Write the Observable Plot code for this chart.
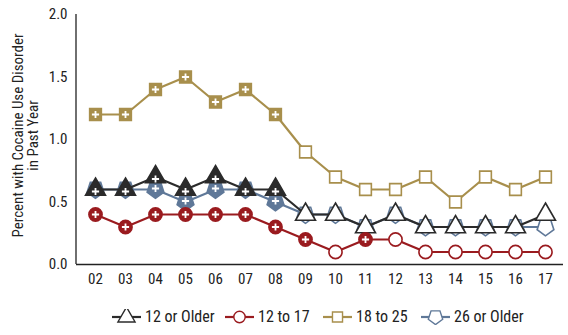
<!DOCTYPE html>
<html>
<head>
<meta charset="utf-8">
<script src="https://cdn.jsdelivr.net/npm/d3@7"></script>
<script src="https://cdn.jsdelivr.net/npm/@observablehq/plot@0.6"></script>
<style>
  body { margin: 0; background: #fff; font-family: "Roboto Condensed", sans-serif; }
  #legend { position: relative; height: 35px; font-size: 16px; color: #222; }
  .item { position: absolute; top: 7px; display: flex; align-items: center; }
  .item svg { margin-right: 4px; }
</style>
</head>
<body>
<div id="chart"></div>
<div id="legend"></div>
<script>
const years = ["02","03","04","05","06","07","08","09","10","11","12","13","14","15","16","17"];
const seriesNames = ["12 or Older", "12 to 17", "18 to 25", "26 or Older"];
const older12 = [0.6,0.6,0.7,0.6,0.7,0.6,0.6,0.4,0.4,0.3,0.4,0.3,0.3,0.3,0.3,0.4];
const age12to17 = [0.4,0.3,0.4,0.4,0.4,0.4,0.3,0.2,0.1,0.2,0.2,0.1,0.1,0.1,0.1,0.1];
const age18to25 = [1.2,1.2,1.4,1.5,1.3,1.4,1.2,0.9,0.7,0.6,0.6,0.7,0.5,0.7,0.6,0.7];
const older26 = [0.6,0.6,0.6,0.5,0.6,0.6,0.5,0.4,0.4,0.3,0.4,0.3,0.3,0.3,0.3,0.3];
// significant difference from 2017 (filled marker with plus)
const sigOlder12 = [1,1,1,1,1,1,1,0,0,0,0,0,0,0,0,0];
const sig12to17 = [1,1,1,1,1,1,1,1,0,1,0,0,0,0,0,0];
const sig18to25 = [1,1,1,1,1,1,1,0,0,0,0,0,0,0,0,0];
const sigOlder26 = [1,1,1,1,1,1,1,0,0,0,0,0,0,0,0,0];
const yTicks = [0, 0.5, 1.0, 1.5, 2.0];
const colors = ["#2b2b2b", "#9a1b1f", "#a88f4c", "#5f7898"];
const legendLeft = [112, 225, 323, 421];

const pentagon = {
  draw(ctx, size) {
    const R = Math.sqrt(size / 2.1);
    for (let k = 0; k < 5; k++) {
      const a = Math.PI / 2 + k * 2 * Math.PI / 5;
      const x = R * Math.cos(a), y = R * Math.sin(a);
      if (k === 0) ctx.moveTo(x, y); else ctx.lineTo(x, y);
    }
    ctx.closePath();
  }
};
const plusSym = {
  draw(ctx, size) {
    const r = Math.sqrt(size / Math.PI);
    ctx.moveTo(-r, 0); ctx.lineTo(r, 0);
    ctx.moveTo(0, -r); ctx.lineTo(0, r);
  }
};
const symbols = ["triangle", "circle", "square", pentagon];
const radii = [7.4, 6.6, 6.6, 7.2];
const plusDy = [2, 0, 0, -1];

const values = [older12, age12to17, age18to25, older26];
const sigs = [sigOlder12, sig12to17, sig18to25, sigOlder26];
const rows = seriesNames.map((s, i) => years.map((y, j) => ({year: y, value: values[i][j], series: s, sig: !!sigs[i][j]})));

const FONT = '"Roboto Condensed", sans-serif';
const drawOrder = [3, 0, 1, 2];
const marks = [
  Plot.ruleY([0], {stroke: "#222", strokeWidth: 1.3}),
  Plot.axisY({ticks: yTicks, tickFormat: d3.format(".1f"), tickSize: 0, tickPadding: 9, fontSize: 15, label: null}),
  Plot.axisX({tickSize: 0, tickPadding: 9, fontSize: 15, label: null}),
  Plot.text(["Percent with Cocaine Use Disorder\nin Past Year"], {frameAnchor: "left", textAnchor: "middle", lineAnchor: "middle", rotate: -90, dx: -51, dy: -4, fontSize: 15, lineHeight: 1.02, fill: "#222"})
];
for (const i of drawOrder) {
  const d = rows[i];
  marks.push(Plot.line(d, {x: "year", y: "value", stroke: colors[i], strokeWidth: 2.2}));
  marks.push(Plot.dot(d, {x: "year", y: "value", symbol: () => symbols[i], r: radii[i], stroke: colors[i], strokeWidth: 1.6, fill: (r) => r.sig ? colors[i] : "#fff"}));
  marks.push(Plot.dot(d.filter(r => r.sig), {x: "year", y: "value", symbol: () => plusSym, r: 3.6, stroke: "#fff", strokeWidth: 1.8, fill: "none", dy: plusDy[i]}));
}

const chart = Plot.plot({
  width: 568,
  height: 300,
  marginLeft: 76,
  marginRight: 5,
  marginTop: 14,
  marginBottom: 36,
  style: {fontFamily: FONT, color: "#222", background: "#fff"},
  x: {type: "point", domain: years, padding: 0.5},
  y: {domain: [0, 2]},
  symbol: {type: "identity"},
  marks
});
// left axis line
d3.select(chart).append("line").attr("x1", 76).attr("x2", 76).attr("y1", 14).attr("y2", 264).attr("stroke", "#222").attr("stroke-width", 1.3);
document.getElementById("chart").appendChild(chart);

// legend
const legend = document.getElementById("legend");
seriesNames.forEach((name, i) => {
  const item = document.createElement("div");
  item.className = "item";
  item.style.left = legendLeft[i] + "px";
  const sw = d3.create("svg").attr("width", 29).attr("height", 16);
  sw.append("line").attr("x1", 0).attr("x2", 29).attr("y1", 8).attr("y2", 8).attr("stroke", colors[i]).attr("stroke-width", 2.2);
  const sym = typeof symbols[i] === "string" ? ({triangle: d3.symbolTriangle, circle: d3.symbolCircle, square: d3.symbolSquare})[symbols[i]] : symbols[i];
  const rr = radii[i] * 0.86;
  sw.append("path").attr("transform", "translate(14.5,8)").attr("d", d3.symbol(sym, rr * rr * Math.PI)()).attr("fill", "#fff").attr("stroke", colors[i]).attr("stroke-width", 1.4);
  item.appendChild(sw.node());
  const t = document.createElement("span");
  t.textContent = name;
  item.appendChild(t);
  legend.appendChild(item);
});
</script>
</body>
</html>
